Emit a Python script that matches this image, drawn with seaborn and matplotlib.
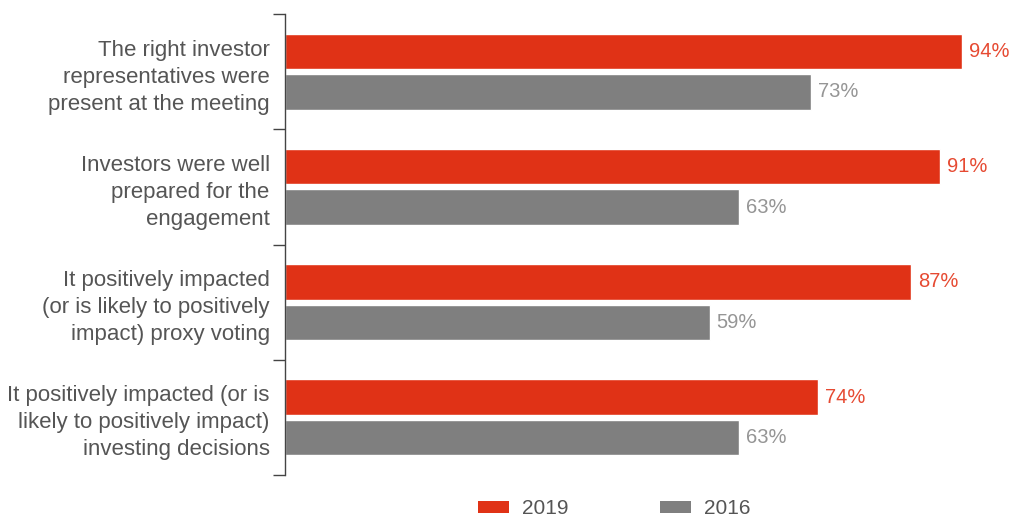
import matplotlib
matplotlib.use("Agg")
import matplotlib.pyplot as plt
from matplotlib.patches import Patch
import seaborn as sns
import pandas as pd

categories = [
    "The right investor\nrepresentatives were\npresent at the meeting",
    "Investors were well\nprepared for the\nengagement",
    "It positively impacted\n(or is likely to positively\nimpact) proxy voting",
    "It positively impacted (or is\nlikely to positively impact)\ninvesting decisions",
]
years = ["2019", "2016"]
values_2019 = [94, 91, 87, 74]
values_2016 = [73, 63, 59, 63]

colors = {"2019": "#E03216", "2016": "#7F7F7F"}
label_colors = {"2019": "#E64A32", "2016": "#959595"}

df = pd.DataFrame({
    "category": categories * 2,
    "year": ["2019"] * len(categories) + ["2016"] * len(categories),
    "value": values_2019 + values_2016,
})

sns.set_theme(style="white")
plt.rcParams["font.family"] = ["Liberation Sans", "DejaVu Sans"]

fig = plt.figure(figsize=(10.13, 5.19), dpi=100)
ax = fig.add_axes([285 / 1013, 1 - 475 / 519, 720 / 1013, 461 / 519])

sns.barplot(
    data=df, y="category", x="value", hue="year", hue_order=years,
    order=categories, palette=colors, orient="h", width=0.7, gap=0.12,
    saturation=1, legend=False, ax=ax,
)

ax.set_xlim(0, 100)
ax.set_ylim(len(categories) - 0.5, -0.5)
ax.set_xlabel("")
ax.set_ylabel("")

# value labels at the end of each bar
for container, year in zip(ax.containers, years):
    labels = [f"{v:.0f}%" for v in container.datavalues]
    ax.bar_label(container, labels=labels, padding=5, fontsize=14.5,
                 color=label_colors[year])

# tick marks between categories, labels at category centres
ax.set_yticks([i - 0.5 for i in range(len(categories) + 1)])
ax.set_yticklabels([])
ax.tick_params(axis="y", which="major", length=9, width=1, color="#444444", left=True)
ax.set_yticks(range(len(categories)), minor=True)
ax.set_yticklabels(categories, minor=True, fontsize=16, color="#555555",
                   linespacing=1.38)
ax.tick_params(axis="y", which="minor", length=0, pad=11)

ax.set_xticks([])
for side in ["top", "right", "bottom"]:
    ax.spines[side].set_visible(False)
ax.spines["left"].set_color("#444444")
ax.spines["left"].set_linewidth(1)

handles = [Patch(facecolor=colors[y], edgecolor="none", label=y) for y in years]
fig.legend(handles=handles, loc="center", bbox_to_anchor=(614 / 1013, 1 - 509 / 519),
           ncol=2, frameon=False, fontsize=15, handlelength=1.5, handleheight=0.55,
           handletextpad=0.6, columnspacing=4.4, labelcolor="#555555")

fig.savefig("out.png", dpi=100)
